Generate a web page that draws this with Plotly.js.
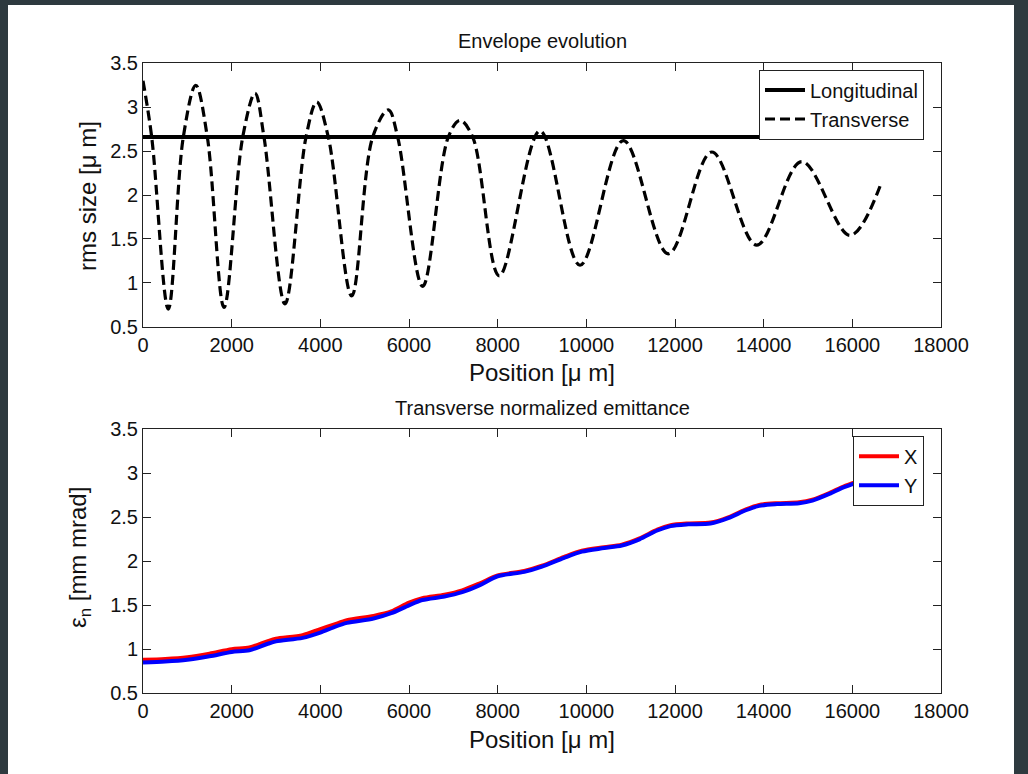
<!DOCTYPE html>
<html>
<head>
<meta charset="utf-8">
<script src="https://cdn.plot.ly/plotly-3.0.1.min.js"></script>
<style>html,body{margin:0;padding:0;background:#2e3a3f;}#chart{width:1028px;height:774px;}</style>
</head>
<body>
<div id="chart"></div>
<script>
// ---- data ----
const longX = [0, 16680];
const longY = [2.66, 2.66];

const transX = [0, 196, 570, 909, 1190, 1451, 1827, 2249, 2526, 2729, 3203, 3677, 3918, 4180, 4707, 5181, 5534, 5745, 6308, 6886, 7150, 7437, 8037, 8955, 9857, 10834, 11849, 12828, 13842, 14857, 15947, 16662];
const transY = [3.3, 2.66, 0.70, 2.66, 3.25, 2.66, 0.72, 2.66, 3.16, 2.66, 0.76, 2.66, 3.06, 2.66, 0.85, 2.66, 2.97, 2.66, 0.96, 2.66, 2.85, 2.66, 1.08, 2.73, 1.20, 2.62, 1.33, 2.49, 1.43, 2.38, 1.54, 2.15];

const emitPos = [0, 500, 1000, 1500, 2000, 2400, 2800, 3000, 3600, 4000, 4300, 4600, 5200, 5600, 6000, 6300, 6800, 7200, 7600, 8000, 8600, 9000, 9500, 9900, 10400, 10800, 11200, 11600, 11900, 12300, 12800, 13200, 13600, 13900, 14300, 14800, 15100, 15500, 15800, 16200, 16680];
const emitX = [0.88, 0.89, 0.91, 0.95, 1.00, 1.02, 1.09, 1.12, 1.16, 1.23, 1.28, 1.33, 1.38, 1.43, 1.53, 1.58, 1.62, 1.67, 1.75, 1.84, 1.89, 1.95, 2.05, 2.12, 2.16, 2.19, 2.26, 2.36, 2.41, 2.43, 2.44, 2.50, 2.59, 2.64, 2.66, 2.67, 2.70, 2.78, 2.85, 2.92, 3.00];
const emitY = [0.85, 0.86, 0.88, 0.92, 0.97, 0.99, 1.06, 1.09, 1.13, 1.19, 1.25, 1.30, 1.35, 1.41, 1.50, 1.56, 1.60, 1.65, 1.73, 1.83, 1.88, 1.94, 2.04, 2.11, 2.15, 2.18, 2.25, 2.35, 2.40, 2.42, 2.43, 2.49, 2.58, 2.63, 2.65, 2.66, 2.69, 2.77, 2.84, 2.91, 2.99];

const xTickVals = [0, 2000, 4000, 6000, 8000, 10000, 12000, 14000, 16000, 18000];
const xTickText = ['0', '2000', '4000', '6000', '8000', '10000', '12000', '14000', '16000', '18000'];
const yTickVals = [0.5, 1, 1.5, 2, 2.5, 3, 3.5];
const yTickText = ['0.5', '1', '1.5', '2', '2.5', '3', '3.5'];

// ---- figure ----
const W = 1028, H = 774;
const FONT = 'Liberation Sans, Arial, Helvetica, sans-serif';
const px = v => v / W;
const py = v => 1 - v / H;

const traces = [
  {x: longX, y: longY, name: 'Longitudinal', mode: 'lines', xaxis: 'x', yaxis: 'y',
   line: {color: '#000000', width: 4}, legend: 'legend'},
  {x: transX, y: transY, name: 'Transverse', mode: 'lines', xaxis: 'x', yaxis: 'y',
   line: {color: '#000000', width: 3.2, dash: '10px,5px', shape: 'spline', smoothing: 1}, legend: 'legend'},
  {x: emitPos, y: emitX, name: 'X', mode: 'lines', xaxis: 'x2', yaxis: 'y2',
   line: {color: '#ff0000', width: 4, shape: 'spline', smoothing: 0.8}, legend: 'legend2'},
  {x: emitPos, y: emitY, name: 'Y', mode: 'lines', xaxis: 'x2', yaxis: 'y2',
   line: {color: '#0000ff', width: 4, shape: 'spline', smoothing: 0.8}, legend: 'legend2'}
];

function xAxis(anchor) {
  return {domain: [px(143), px(941)], range: [0, 18000], anchor: anchor,
    tickmode: 'array', tickvals: xTickVals, ticktext: xTickText,
    ticks: 'inside', ticklen: 8, tickwidth: 1, tickcolor: '#222',
    showline: true, linecolor: '#222', linewidth: 1, mirror: 'ticks',
    showgrid: false, zeroline: false, fixedrange: true,
    tickfont: {family: FONT, size: 20, color: '#111'}};
}
function yAxis(anchor, top, bottom) {
  return {domain: [py(bottom), py(top)], range: [0.5, 3.5], anchor: anchor,
    tickmode: 'array', tickvals: yTickVals, ticktext: yTickText,
    ticks: 'inside', ticklen: 8, tickwidth: 1, tickcolor: '#222',
    showline: true, linecolor: '#222', linewidth: 1, mirror: 'ticks',
    showgrid: false, zeroline: false, fixedrange: true,
    tickfont: {family: FONT, size: 20, color: '#111'}};
}

const legendBase = {bgcolor: '#ffffff', bordercolor: '#222', borderwidth: 1,
  font: {family: FONT, size: 20, color: '#111'}, xanchor: 'right', yanchor: 'top',
  tracegroupgap: 0, itemwidth: 40};

const layout = {
  width: W, height: H,
  margin: {l: 0, r: 0, t: 0, b: 0},
  paper_bgcolor: '#2e3a3f', plot_bgcolor: '#ffffff',
  showlegend: true,
  xaxis: xAxis('y'),
  yaxis: yAxis('x', 63.3, 326.7),
  xaxis2: xAxis('y2'),
  yaxis2: yAxis('x2', 429.3, 693.3),
  legend: Object.assign({}, legendBase, {x: px(924), y: py(69.5)}),
  legend2: Object.assign({}, legendBase, {x: px(924), y: py(435.7)}),
  shapes: [
    {type: 'rect', xref: 'paper', yref: 'paper', x0: px(8), x1: px(1014), y0: 0, y1: py(5),
     fillcolor: '#ffffff', line: {width: 0}, layer: 'below'}
  ],
  annotations: [
    {text: 'Envelope evolution', xref: 'paper', yref: 'paper', x: px(542), y: py(41),
     showarrow: false, xanchor: 'center', yanchor: 'middle', font: {family: FONT, size: 20, color: '#111'}},
    {text: 'Transverse normalized emittance', xref: 'paper', yref: 'paper', x: px(542), y: py(408),
     showarrow: false, xanchor: 'center', yanchor: 'middle', font: {family: FONT, size: 20, color: '#111'}},
    {text: 'Position [μ m]', xref: 'paper', yref: 'paper', x: px(542), y: py(372),
     showarrow: false, xanchor: 'center', yanchor: 'middle', font: {family: FONT, size: 24, color: '#111'}},
    {text: 'Position [μ m]', xref: 'paper', yref: 'paper', x: px(542), y: py(739),
     showarrow: false, xanchor: 'center', yanchor: 'middle', font: {family: FONT, size: 24, color: '#111'}},
    {text: 'rms size [μ m]', xref: 'paper', yref: 'paper', x: px(88), y: py(196), textangle: -90,
     showarrow: false, xanchor: 'center', yanchor: 'middle', font: {family: FONT, size: 24, color: '#111'}},
    {text: 'ε<sub>n</sub> [mm mrad]', xref: 'paper', yref: 'paper', x: px(79), y: py(558), textangle: -90,
     showarrow: false, xanchor: 'center', yanchor: 'middle', font: {family: FONT, size: 24, color: '#111'}}
  ]
};

Plotly.newPlot('chart', traces, layout, {displayModeBar: false, staticPlot: true});
</script>
</body>
</html>
